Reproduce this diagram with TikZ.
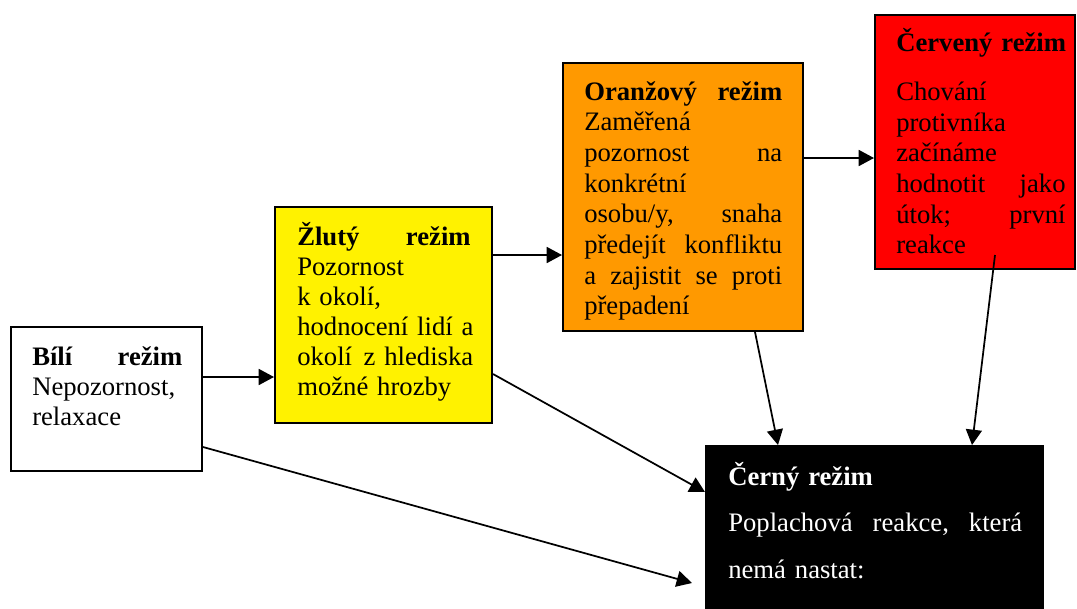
\documentclass[tikz,border=0pt]{standalone}
\usepackage{fontspec}
\setmainfont{Liberation Serif}
\usetikzlibrary{arrows.meta}
\begin{document}
\begin{tikzpicture}[x=0.75pt,y=-0.75pt,
  box/.style={draw=black, line width=1.5pt, inner sep=0pt, rectangle},
  txt/.style={anchor=base west, inner sep=0pt, align=left, font=\fontsize{20}{22.5}\selectfont},
  conn/.style={line width=1.3pt, -{Triangle[length=11.5pt,width=12pt]}}]
\clip (0,0) rectangle (1077,608);
\fill[white] (0,0) rectangle (1077,608);
% boxes
\node[box, fill=white, minimum width=143.25pt, minimum height=108pt] (bili) at (106.5,399) {};
\node[box, fill=yellow, minimum width=162.75pt, minimum height=162pt] (zluty) at (383.5,315) {};
\node[box, fill={rgb,255:red,255;green,153;blue,0}, minimum width=180pt, minimum height=201pt] (oranz) at (683,197) {};
\node[box, fill=red, minimum width=150pt, minimum height=190.5pt] (cerv) at (975,142) {};
\node[box, fill=black, minimum width=252.75pt, minimum height=130.5pt] (cerny) at (874.5,533) {};
% texts
\node[txt, text width=112.5pt] (bilit) at (32,365)
  {\textbf{Bílí}\hfill\textbf{režim}\\Nepozornost,\\relaxace};
\node[txt, text width=130pt] (zlutyt) at (297,245)
  {\textbf{Žlutý}\hfill\textbf{režim}\\Pozornost\\k okolí,\\\mbox{hodnocení lidí a}\\\mbox{okolí\hspace{0.1em} z hlediska}\\možné hrozby};
\begin{scope}
\clip (563,63) rectangle (803,321);
\node[txt, text width=148.5pt, font=\fontsize{20}{23}\selectfont] (oranzt) at (584,100)
  {\textbf{Oranžový}\hfill\textbf{režim}\\Zaměřená\\pozornost\hfill na\\konkrétní\\osobu/y,\hfill snaha\\předejít\hfill konfliktu\\a\hfill zajistit\hfill se\hfill proti\\přepadení};
\end{scope}
\node[txt, text width=127pt, font=\fontsize{20}{23}\selectfont] (cervt) at (896,51)
  {\mbox{\textbf{Červený režim}}\\[14pt]Chování\\protivníka\\začínáme\\hodnotit\hfill jako\\útok;\hfill první\\reakce};
\node[txt, text width=220.5pt, font=\fontsize{20}{35}\selectfont, text=white] (cernyt) at (728,485)
  {\textbf{Černý režim}\\Poplachová\hfill reakce,\hfill která\\nemá nastat:};
% connectors
\coordinate (redstart) at (995,255);
\coordinate (bilend) at (692,583);
\draw[conn] (bili.east |- 0,377) -- (zluty.west |- 0,377);
\draw[conn] (zluty.east |- 0,255) -- (oranz.west |- 0,255);
\draw[conn] (oranz.east |- 0,158) -- (cerv.west |- 0,158);
\draw[conn] (zluty.east |- 0,374) -- (cerny.west |- 0,492);
\draw[conn] (bili.east |- 0,447) -- (bilend);
\draw[conn] (oranz.south -| 755,0) -- (cerny.north -| 778,0);
\draw[conn] (redstart) -- (cerny.north -| 972,0);
\end{tikzpicture}
\end{document}
